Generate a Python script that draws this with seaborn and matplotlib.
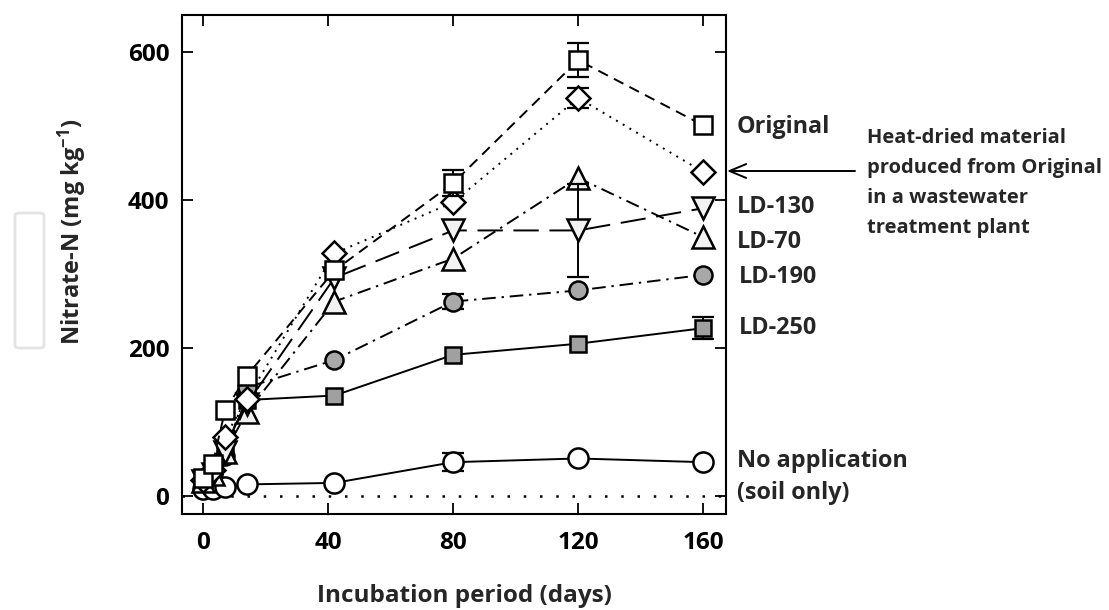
import numpy as np
import pandas as pd
import matplotlib
matplotlib.use("Agg")
import matplotlib.pyplot as plt
from matplotlib.patches import FancyBboxPatch
import seaborn as sns

# ---------------- data ----------------
days = [0, 3, 7, 14, 42, 80, 120, 160]
original     = [25, 44, 116, 163, 305, 423, 589, 501]
heat_dried   = [22, 35, 80, 132, 328, 397, 538, 438]
ld130        = [20, 30, 60, 125, 295, 359, 359, 389]
ld70         = [20, 30, 60, 114, 263, 321, 430, 350]
ld190        = [20, 30, 55, 147, 184, 263, 278, 299]
ld250        = [22, 35, 65, 130, 136, 191, 206, 227]
no_app       = [10, 10, 13, 16, 18, 46, 51, 46]

err_original = [0, 0, 0, 0, 0, 18, 23, 0]
err_heat     = [0, 0, 0, 0, 0, 0, 13, 0]
err_ld130    = [0, 0, 0, 0, 0, 0, 63, 0]
err_ld70     = [0, 0, 0, 0, 0, 0, 0, 0]
err_ld190    = [0, 0, 0, 0, 0, 10, 0, 0]
err_ld250    = [0, 0, 0, 0, 0, 0, 0, 15]
err_noapp    = [0, 0, 0, 0, 0, 12, 0, 0]

series_names = ["No application", "LD-250", "LD-190", "LD-70", "LD-130", "Heat-dried", "Original"]
x_ticks = [0, 40, 80, 120, 160]
y_ticks = [0, 200, 400, 600]

values = {
    "Original": original, "Heat-dried": heat_dried, "LD-130": ld130,
    "LD-70": ld70, "LD-190": ld190, "LD-250": ld250, "No application": no_app,
}
errors = {
    "Original": err_original, "Heat-dried": err_heat, "LD-130": err_ld130,
    "LD-70": err_ld70, "LD-190": err_ld190, "LD-250": err_ld250, "No application": err_noapp,
}

styles = {
    "Original":       dict(marker="s", mfc="white",   ls=(0, (5.5, 3.5)), ms=13),
    "Heat-dried":     dict(marker="D", mfc="white",   ls=(0, (1, 3)), ms=12.5),
    "LD-130":         dict(marker="v", mfc="#f2f2f2", ls=(0, (13, 5.5)), ms=16),
    "LD-70":          dict(marker="^", mfc="#f2f2f2", ls=(0, (7, 3, 1.2, 3)), ms=16),
    "LD-190":         dict(marker="o", mfc="#a8a8a8", ls=(0, (7, 3, 1.2, 3)), ms=13),
    "LD-250":         dict(marker="s", mfc="#a0a0a0", ls="-", ms=12),
    "No application": dict(marker="o", mfc="white",   ls="-", ms=14.5),
}

rows = []
for name in series_names:
    for d, v in zip(days, values[name]):
        rows.append({"series": name, "day": d, "value": v})
df = pd.DataFrame(rows)

# ---------------- figure ----------------
sns.set_style("ticks")
plt.rcParams["font.family"] = ["Open Sans", "DejaVu Sans"]
plt.rcParams["font.weight"] = "bold"
plt.rcParams["mathtext.default"] = "regular"

W, H = 1109, 610
fig = plt.figure(figsize=(W / 100, H / 100), dpi=100)
ax = fig.add_axes([182 / W, 1 - 514 / H, (726 - 182) / W, (514 - 15) / H])

ax.axhline(0, color="black", lw=1.8, ls=(0, (1, 5.5)), zorder=1)

for i, name in enumerate(series_names):
    st = styles[name]
    sub = df[df["series"] == name]
    err = np.array(errors[name], dtype=float)
    mask = err > 0
    if mask.any():
        ax.errorbar(np.array(days)[mask], np.array(values[name])[mask], yerr=err[mask],
                    fmt="none", ecolor="black", elinewidth=1.4, capsize=8, capthick=1.6,
                    zorder=2 + i)
    sns.lineplot(data=sub, x="day", y="value", ax=ax, color="black", lw=1.4,
                 linestyle=st["ls"], marker=st["marker"], markersize=st["ms"],
                 markerfacecolor=st["mfc"], markeredgecolor="black", markeredgewidth=1.8,
                 errorbar=None, legend=False, zorder=3 + i)

ax.set_xlim(-6.8, 167.3)
ax.set_ylim(-24, 650)
ax.set_xticks(x_ticks)
ax.set_yticks(y_ticks)
ax.set_xlabel("")
ax.set_ylabel("")
ax.tick_params(direction="in", length=8, width=1.3, top=True, right=True,
               labelsize=17.5, colors="black")
ax.tick_params(axis="x", pad=12)
ax.tick_params(axis="y", pad=9)
for lab in ax.get_xticklabels() + ax.get_yticklabels():
    lab.set_fontweight("bold")
for sp in ax.spines.values():
    sp.set_linewidth(1.5)
    sp.set_color("black")

def fx(px):
    return px / W

def fy(py):
    return 1 - py / H

# axis labels
fig.text(fx(464), fy(596), "Incubation period (days)", ha="center", va="center",
         fontsize=17.5, fontweight="bold")
fig.text(fx(72), fy(232), "Nitrate-N (mg kg$^{-1}$)", ha="center", va="center",
         rotation=90, fontsize=17, fontweight="bold")

# series labels on the right
labels = [("Original", 737, 127), ("LD-130", 737, 207), ("LD-70", 737, 242),
          ("LD-190", 739, 277), ("LD-250", 739, 328),
          ("No application", 737, 461), ("(soil only)", 737, 493)]
for txt, px, py in labels:
    fig.text(fx(px), fy(py), txt, ha="left", va="center", fontsize=16.8, fontweight="bold")

fig.text(fx(867), fy(183),
         "Heat-dried material\nproduced from Original\nin a wastewater\ntreatment plant",
         ha="left", va="center", fontsize=14.5, fontweight="bold", linespacing=1.68)

ax.annotate("", xy=(fx(727), fy(171)), xycoords="figure fraction",
            xytext=(fx(855), fy(171)), textcoords="figure fraction",
            arrowprops=dict(arrowstyle="->,head_length=1.2,head_width=0.5", lw=1.4,
                            color="black", shrinkA=0, shrinkB=0))

# faint rounded box artefact on the left
box = FancyBboxPatch((fx(15), fy(348)), fx(44) - fx(15), fy(213) - fy(348),
                     boxstyle="round,pad=0,rounding_size=0.004", transform=fig.transFigure,
                     facecolor="none", edgecolor="#e3e3e3", lw=2)
fig.patches.append(box)

fig.savefig("out.png", dpi=100)
